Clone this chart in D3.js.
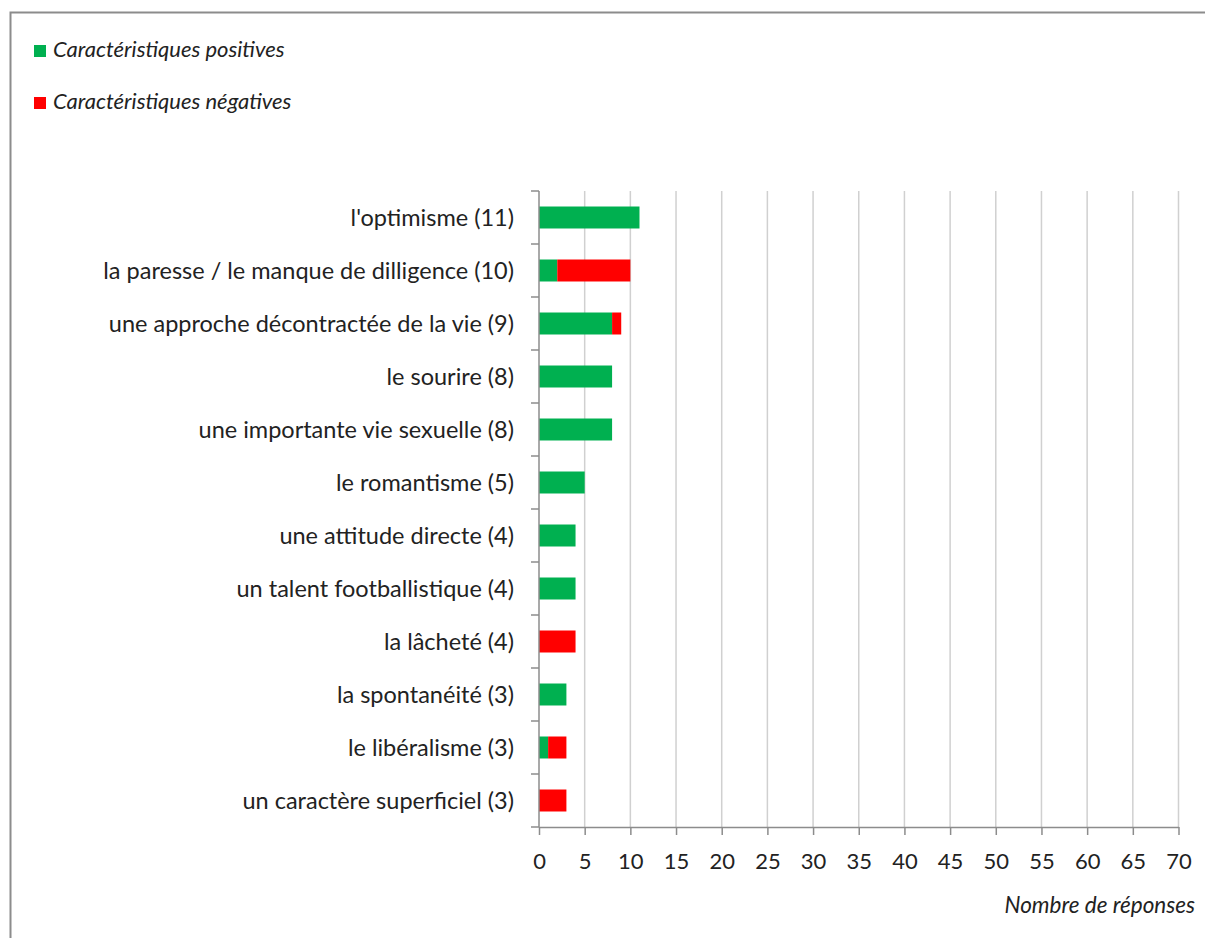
<!DOCTYPE html>
<html>
<head>
<meta charset="utf-8">
<script src="https://cdn.jsdelivr.net/npm/d3@7"></script>
<style>
  body { margin: 0; background: #fff; }
  svg { display: block; }
  text { font-family: Lato, "Open Sans", sans-serif; fill: #222; }
</style>
</head>
<body>
<svg width="1205" height="938"></svg>
<script>
// data
var categories = [
    "l'optimisme (11)",
    "la paresse / le manque de dilligence (10)",
    "une approche décontractée de la vie (9)",
    "le sourire (8)",
    "une importante vie sexuelle (8)",
    "le romantisme (5)",
    "une attitude directe (4)",
    "un talent footballistique (4)",
    "la lâcheté (4)",
    "la spontanéité (3)",
    "le libéralisme (3)",
    "un caractère superficiel (3)"
];
var positives = [11, 2, 8, 8, 8, 5, 4, 4, 0, 3, 1, 0];
var negatives = [0, 8, 1, 0, 0, 0, 0, 0, 4, 0, 2, 3];
var seriesNames = ["Caractéristiques positives", "Caractéristiques négatives"];
var seriesColors = ["#00b050", "#ff0000"];
var xTicks = d3.range(0, 71, 5);

var svg = d3.select("svg");

// outer frame
svg.append("rect")
    .attr("x", 10.5).attr("y", 12.5)
    .attr("width", 1220).attr("height", 960)
    .attr("fill", "none")
    .attr("stroke", "#8c8c8c")
    .attr("stroke-width", 2);

var margin = {left: 539, top: 191, right: 1178.5, bottom: 827};

var x = d3.scaleLinear().domain([0, 70]).range([margin.left, margin.right]);
var y = d3.scaleBand().domain(categories).range([margin.top, margin.bottom]).paddingInner(0.585).paddingOuter(0.2925);

// gridlines
svg.append("g").selectAll("line")
    .data(xTicks.filter(function(d) { return d > 0; }))
    .enter().append("line")
    .attr("x1", function(d) { return x(d); })
    .attr("x2", function(d) { return x(d); })
    .attr("y1", margin.top)
    .attr("y2", margin.bottom)
    .attr("stroke", "#d0d0d0")
    .attr("stroke-width", 1.5);

// stacked bars
var stacked = categories.map(function(c, i) {
    return {cat: c, pos: positives[i], neg: negatives[i]};
});
var stack = d3.stack().keys(["pos", "neg"])(stacked);

svg.append("g").selectAll("g")
    .data(stack)
    .enter().append("g")
    .attr("fill", function(d, i) { return seriesColors[i]; })
    .selectAll("rect")
    .data(function(d) { return d; })
    .enter().append("rect")
    .attr("x", function(d) { return x(d[0]); })
    .attr("width", function(d) { return x(d[1]) - x(d[0]); })
    .attr("y", function(d) { return y(d.data.cat); })
    .attr("height", y.bandwidth());

// x axis
var xAxis = svg.append("g")
    .attr("transform", "translate(0," + margin.bottom + ")")
    .call(d3.axisBottom(x).tickValues(xTicks).tickSize(8).tickPadding(18).tickSizeOuter(0));
xAxis.select(".domain").attr("stroke", "#8c8c8c").attr("stroke-width", 1.5);
xAxis.selectAll(".tick line").attr("stroke", "#8c8c8c").attr("stroke-width", 1.5);
xAxis.selectAll(".tick text").attr("font-size", 22).attr("fill", "#222")
    .style("font-family", "Lato, 'Open Sans', sans-serif");

// y axis: line plus ticks at band boundaries
var step = y.step();
var boundaries = d3.range(0, categories.length + 1).map(function(i) { return margin.top + i * step; });
svg.append("line")
    .attr("x1", margin.left).attr("x2", margin.left)
    .attr("y1", margin.top).attr("y2", margin.bottom)
    .attr("stroke", "#8c8c8c").attr("stroke-width", 1.5);
svg.append("g").selectAll("line")
    .data(boundaries)
    .enter().append("line")
    .attr("x1", margin.left - 8).attr("x2", margin.left)
    .attr("y1", function(d) { return d; }).attr("y2", function(d) { return d; })
    .attr("stroke", "#8c8c8c").attr("stroke-width", 1.5);

svg.append("g").selectAll("text")
    .data(categories)
    .enter().append("text")
    .attr("x", 514)
    .attr("y", function(d) { return y(d) + y.bandwidth() / 2; })
    .attr("dy", "0.35em")
    .attr("text-anchor", "end")
    .attr("font-size", 23.5)
    .text(function(d) { return d; });

// axis title
svg.append("text")
    .attr("x", 1195).attr("y", 913)
    .attr("text-anchor", "end")
    .attr("font-size", 22.5)
    .attr("font-style", "italic")
    .text("Nombre de réponses");

// legend
var legend = svg.append("g").selectAll("g")
    .data(seriesNames)
    .enter().append("g")
    .attr("transform", function(d, i) { return "translate(34," + (45 + i * 52) + ")"; });
legend.append("rect")
    .attr("width", 12).attr("height", 12)
    .attr("fill", function(d, i) { return seriesColors[i]; });
legend.append("text")
    .attr("x", 19).attr("y", 12)
    .attr("font-size", 22)
    .attr("font-style", "italic")
    .text(function(d) { return d; });
</script>
</body>
</html>
